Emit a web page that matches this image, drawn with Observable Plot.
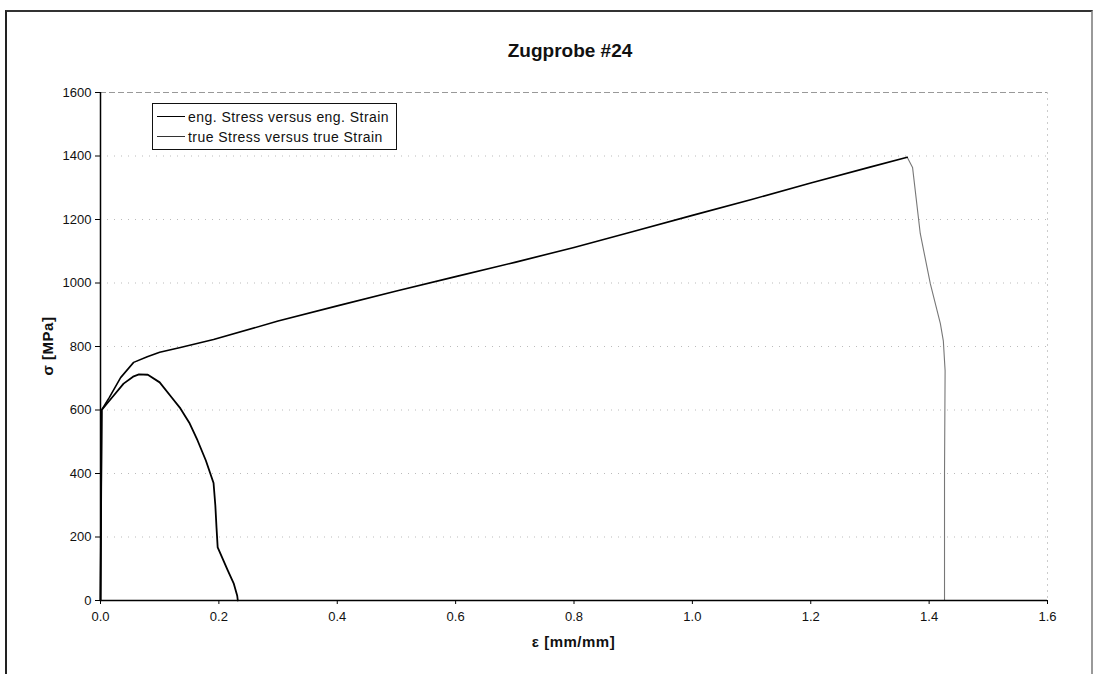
<!DOCTYPE html>
<html>
<head>
<meta charset="utf-8">
<script src="https://cdn.jsdelivr.net/npm/d3@7"></script>
<script src="https://cdn.jsdelivr.net/npm/@observablehq/plot@0.6"></script>
<style>
  body { margin: 0; background: #fff; }
  #wrap { position: relative; width: 1099px; height: 674px; overflow: hidden; font-family: "Liberation Sans", Arial, sans-serif; }
  #frame { position: absolute; left: 5px; top: 10px; width: 1084px; height: 720px; border-left: 2px solid #222; border-top: 2px solid #333; border-right: 2px solid #999; }
  #title { position: absolute; left: 0; width: 1140px; top: 40px; text-align: center; font-family: "Liberation Sans Narrow", "Liberation Sans", Arial, sans-serif; font-weight: bold; font-size: 19px; color: #111; }
  #xlab { position: absolute; left: 100px; width: 947px; top: 633px; text-align: center; font-weight: bold; font-size: 15px; color: #111; letter-spacing: 0.5px; }
  #ylab { position: absolute; left: 47px; top: 346px; transform: translate(-50%, -50%) rotate(-90deg); font-weight: bold; font-size: 15px; color: #111; white-space: nowrap; letter-spacing: 0.5px; }
  #legend { position: absolute; left: 152px; top: 103px; width: 243px; height: 45px; border: 1px solid #111; background: #fff; font-size: 14px; color: #111; letter-spacing: 0.45px; }
  .row { position: absolute; left: 4px; height: 17px; display: flex; align-items: center; white-space: nowrap; }
  .sw { width: 28px; height: 0; margin-right: 3px; }
  #chart { position: absolute; left: 0; top: 0; }
</style>
</head>
<body>
<div id="wrap">
  <div id="frame"></div>
  <div id="chart"></div>
  <div id="title">Zugprobe #24</div>
  <div id="xlab">ε [mm/mm]</div>
  <div id="ylab">σ [MPa]</div>
  <div id="legend">
    <div class="row" style="top:4px"><div class="sw" style="border-top:1.6px solid #000"></div>eng. Stress versus eng. Strain</div>
    <div class="row" style="top:24px"><div class="sw" style="border-top:1px solid #333"></div>true Stress versus true Strain</div>
  </div>
</div>
<script>
// Engineering stress-strain curve
const engStrain = [0, 0.002, 0.01, 0.022, 0.039, 0.055, 0.065, 0.08, 0.1, 0.12, 0.135, 0.15, 0.164, 0.178, 0.191, 0.194, 0.196, 0.198, 0.215, 0.225, 0.231, 0.232];
const engStress = [0, 600, 618, 645, 683, 705, 712, 711, 687, 640, 605, 560, 504, 441, 370, 300, 230, 167, 95, 54, 15, 0];

// True stress-strain curve (up to the maximum)
const trueStrain = [0, 0.002, 0.015, 0.034, 0.056, 0.079, 0.1, 0.135, 0.191, 0.3, 0.4, 0.5, 0.6, 0.7, 0.8, 0.9, 1.0, 1.1, 1.2, 1.3, 1.363];
const trueStress = [0, 600, 640, 702, 750, 768, 782, 797, 822, 880, 928, 975, 1020, 1065, 1112, 1162, 1213, 1263, 1315, 1365, 1396];

// True curve after the maximum (fracture drop)
const dropStrain = [1.363, 1.372, 1.385, 1.402, 1.419, 1.424, 1.427, 1.426, 1.426];
const dropStress = [1396, 1364, 1156, 998, 872, 818, 724, 400, 0];

const xTicks = [0, 0.2, 0.4, 0.6, 0.8, 1.0, 1.2, 1.4, 1.6];
const yTicks = [0, 200, 400, 600, 800, 1000, 1200, 1400, 1600];

const eng = engStrain.map((x, i) => ({x, y: engStress[i]}));
const tru = trueStrain.map((x, i) => ({x, y: trueStress[i]}));
const drop = dropStrain.map((x, i) => ({x, y: dropStress[i]}));

const chart = Plot.plot({
  width: 1099,
  height: 674,
  marginLeft: 100,
  marginRight: 52,
  marginTop: 92,
  marginBottom: 74,
  style: { fontFamily: '"Liberation Sans", Arial, sans-serif', color: "#111", background: "transparent" },
  x: { domain: [0, 1.6] },
  y: { domain: [0, 1600] },
  marks: [
    Plot.ruleY(yTicks.slice(1, -1), { stroke: "#bbb", strokeDasharray: "1,6", strokeWidth: 1 }),
    Plot.ruleY([1600], { stroke: "#999", strokeDasharray: "6,3", strokeWidth: 1 }),
    Plot.ruleX([1.6], { stroke: "#ccc", strokeDasharray: "2,4" }),
    Plot.axisX({ ticks: xTicks, tickFormat: d => d.toFixed(1), tickSize: 4, tickPadding: 7, label: null, fontSize: 13, stroke: "#000" }),
    Plot.axisY({ ticks: yTicks, tickFormat: d => String(d), tickSize: 5, tickPadding: 4, label: null, fontSize: 13, stroke: "#000" }),
    Plot.line(drop, { x: "x", y: "y", stroke: "#777", strokeWidth: 1.1 }),
    Plot.line(tru, { x: "x", y: "y", stroke: "#000", strokeWidth: 1.6 }),
    Plot.line(eng, { x: "x", y: "y", stroke: "#000", strokeWidth: 1.8 }),
    Plot.ruleX([0], { stroke: "#000", strokeWidth: 1.5 }),
    Plot.ruleY([0], { stroke: "#000", strokeWidth: 1.5 })
  ]
});
document.getElementById("chart").appendChild(chart);
</script>
</body>
</html>
